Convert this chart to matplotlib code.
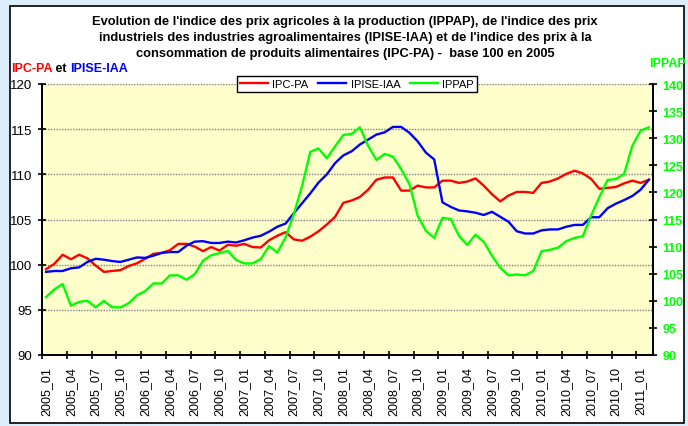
import matplotlib
matplotlib.use('Agg')
import matplotlib.pyplot as plt
from matplotlib.patches import Rectangle
import numpy as np

# ---------------- data ----------------
months = [f"{y}_{m:02d}" for y in range(2005, 2012) for m in range(1, 13)][:74]
tick_labels = months[::3]

ipc_pa = [99.5, 100.1, 101.1, 100.6, 101.1, 100.7, 99.9, 99.2, 99.3, 99.4,
          99.85, 100.15, 100.65, 101.2, 101.3, 101.6, 102.3, 102.3, 102.0, 101.5,
          101.95, 101.55, 102.2, 102.1, 102.3, 101.95, 101.9, 102.7, 103.2, 103.6,
          102.8, 102.65, 103.1, 103.7, 104.45, 105.3, 106.85, 107.1, 107.5, 108.3,
          109.4, 109.65, 109.65, 108.2, 108.2, 108.75, 108.55, 108.55, 109.3, 109.3,
          109.05, 109.2, 109.55, 108.75, 107.8, 107.0, 107.65, 108.05, 108.05, 107.95,
          109.05, 109.2, 109.55, 110.05, 110.4, 110.1, 109.5, 108.4, 108.5, 108.6,
          109.0, 109.3, 109.05, 109.4]

ipise_iaa = [99.2, 99.3, 99.3, 99.6, 99.7, 100.3, 100.65, 100.55, 100.4, 100.3,
             100.55, 100.8, 100.75, 101.0, 101.3, 101.4, 101.4, 102.1, 102.55, 102.6,
             102.4, 102.4, 102.55, 102.45, 102.7, 103.0, 103.2, 103.65, 104.2, 104.55,
             105.7, 106.8, 107.9, 109.1, 110.0, 111.25, 112.1, 112.55, 113.3, 113.85,
             114.4, 114.65, 115.25, 115.25, 114.6, 113.65, 112.4, 111.65, 106.9, 106.4,
             106.0, 105.9, 105.75, 105.5, 105.85, 105.3, 104.75, 103.7, 103.45, 103.45,
             103.8, 103.9, 103.9, 104.2, 104.4, 104.4, 105.25, 105.25, 106.25, 106.75,
             107.15, 107.6, 108.3, 109.4]

ippap = [100.7, 102.1, 103.1, 99.1, 99.8, 100.0, 98.8, 100.0, 98.8, 98.8,
         99.55, 101.0, 101.8, 103.2, 103.2, 104.7, 104.7, 103.9, 104.9, 107.4,
         108.4, 108.8, 109.2, 107.55, 106.9, 106.9, 107.7, 110.1, 108.9, 111.7,
         116.0, 121.2, 127.5, 128.1, 126.3, 128.5, 130.6, 130.8, 132.0, 128.6,
         126.0, 127.1, 126.6, 124.3, 121.5, 115.7, 112.9, 111.6, 115.3, 115.1,
         112.0, 110.3, 112.2, 110.9, 108.3, 106.1, 104.7, 104.85, 104.7, 105.5,
         109.15, 109.4, 109.8, 111.0, 111.6, 111.9, 115.7, 119.1, 122.3, 122.45,
         123.4, 128.6, 131.4, 132.0]

title_lines = [
    "Evolution de l'indice des prix agricoles à la production (IPPAP), de l'indice des prix",
    "industriels des industries agroalimentaires (IPISE-IAA) et de l'indice des prix à la",
    "consommation de produits alimentaires (IPC-PA) -  base 100 en 2005",
]

# ---------------- figure ----------------
plt.rcParams['font.family'] = ['Liberation Sans', 'DejaVu Sans']

W, H = 688, 427
fig = plt.figure(figsize=(W / 100, H / 100), dpi=100, facecolor='#DCEEFB')
fig.patches.append(Rectangle((10 / W, 3 / H), 674 / W, 417 / H, transform=fig.transFigure,
                             facecolor='white', edgecolor='black', lw=1.2, zorder=-10))

ax = fig.add_axes([42 / W, 1 - 356 / H, (653 - 42) / W, (356 - 85) / H])
ax.set_facecolor('#FFFFCC')
x = np.arange(len(months))
l1, = ax.plot(x, ipc_pa, color='#FF0000', lw=1.7, label='IPC-PA')
l2, = ax.plot(x, ipise_iaa, color='#0000FF', lw=1.7, label='IPISE-IAA')
ax2 = ax.twinx()
l3, = ax2.plot(x, ippap, color='#00FF00', lw=1.7, label='IPPAP')

ax.set_xlim(-0.5, len(months) - 0.5)
ax.set_ylim(90, 120)
ax2.set_ylim(90, 140)
ax.set_yticks(np.arange(90, 121, 5))
ax2.set_yticks(np.arange(90, 141, 5))
ax.grid(axis='y', color='#808080', linestyle=(0, (1, 1)), lw=1.0)

ax.set_xticks(x[::3])
ax.set_xticklabels(tick_labels, rotation=90, fontsize=9)
ax.set_xticks(np.arange(-0.5, len(months) - 1, 3), minor=True)
ax.tick_params(axis='x', which='major', length=0, pad=8)
ax.tick_params(axis='x', which='minor', length=6, direction='inout', width=1.2)
ax.tick_params(axis='y', length=6, direction='inout', width=1.2, labelsize=9.5, pad=4)
ax2.tick_params(axis='y', length=6, direction='inout', width=1.2, labelsize=9, pad=4,
                labelcolor='#00FF00')
for lab in ax2.get_yticklabels():
    lab.set_fontweight('bold')

for a in (ax, ax2):
    a.spines['top'].set_visible(False)
    for s in ('left', 'right', 'bottom'):
        a.spines[s].set_linewidth(1.3)
        a.spines[s].set_color('black')

# ---------------- legend ----------------
fig.legend([l1, l2, l3], ['IPC-PA', 'IPISE-IAA', 'IPPAP'], loc='center',
           bbox_to_anchor=(357 / W, 1 - 85 / H), ncol=3, frameon=True, fancybox=False,
           edgecolor='black', framealpha=1, fontsize=8, handlelength=2.5,
           columnspacing=0.9, handletextpad=0.4, borderpad=0.25)

# ---------------- texts ----------------
title_y = [21.7, 37.6, 54.3]
texts = []
for line, yy in zip(title_lines, title_y):
    t = fig.text(345 / W, 1 - yy / H, line, ha='center', va='center',
                 fontweight='bold', fontsize=9.5)
    texts.append(t)
fig.canvas.draw()
r = fig.canvas.get_renderer()
w0 = texts[0].get_window_extent(r).width
fs = 9.5 * 509 / w0
for t in texts:
    t.set_fontsize(fs)

t1 = fig.text(11 / W, 1 - 69 / H, 'IPC-PA', color='#FF0000', fontweight='bold',
              fontsize=9, va='center', ha='left')
t2 = ax.annotate(' et ', xy=(1, 0), xycoords=t1, va='bottom', ha='left',
                 fontweight='bold', fontsize=9, color='black', annotation_clip=False)
t3 = ax.annotate('IPISE-IAA', xy=(1, 0), xycoords=t2, va='bottom', ha='left',
                 fontweight='bold', fontsize=9, color='#0000FF', annotation_clip=False)
fig.text(668 / W, 1 - 64 / H, 'IPPAP', color='#00FF00', fontweight='bold',
         fontsize=9, va='center', ha='center')

fig.savefig('out.png', dpi=100, facecolor=fig.get_facecolor())
